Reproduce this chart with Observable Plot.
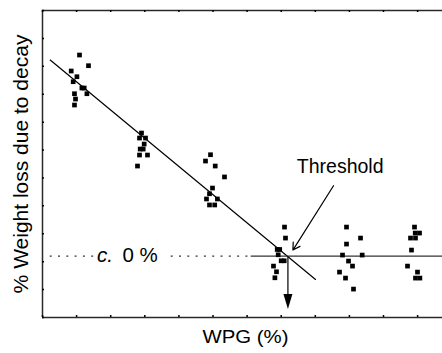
<!DOCTYPE html>
<html><head><meta charset="utf-8">
<script src="https://cdn.jsdelivr.net/npm/d3@7"></script>
<script src="https://cdn.jsdelivr.net/npm/@observablehq/plot@0.6"></script>
<style>body{margin:0;background:#fff}</style>
</head><body><div id="chart"></div>
<script>
// ---- data (arbitrary units: x ticks and y ticks at integers) ----
const xTicks = [0,1,2,3,4,5,6,7,8,9,10,11];
const yTicks = [0,1,2,3,4,5,6,7,8,9,10,11];
const wpgValues = [
  1.085,1.349,0.842,1.009,0.900,1.155,1.223,1.302,0.938,0.968,0.938,
  2.903,2.845,3.021,2.982,2.953,2.865,2.845,3.079,2.786,
  4.927,4.780,5.065,5.337,4.985,4.897,4.809,5.129,4.897,5.050,
  7.097,7.126,6.883,6.956,6.912,7.000,7.088,6.774,6.862,6.815,
  8.915,9.326,8.915,8.798,9.375,8.974,9.091,8.710,8.886,9.120,
  10.909,10.930,11.056,10.792,10.938,10.821,10.704,10.997,10.938,11.067
];
const lossValues = [
  9.405,9.022,8.832,8.627,8.448,8.222,8.222,8.018,8.018,7.828,7.613,
  6.609,6.430,6.430,6.215,6.036,6.036,5.821,5.821,5.427,
  5.832,5.606,5.427,5.036,4.638,4.434,4.247,4.247,4.032,4.032,
  3.240,2.846,2.437,2.437,2.247,2.032,2.032,1.842,1.638,1.423,
  3.240,2.846,2.631,2.237,2.237,2.022,1.842,1.627,1.412,1.018,
  3.240,3.025,3.025,2.846,2.846,2.416,1.842,1.627,1.412,1.412
];
const fitX = [0.226, 8.006];
const fitY = [9.226, 1.362];
const zeroLevel = 2.20;
const solidX = [6.12, 11.73];
const dottedStarts = [0.226, 3.774];
const dottedEnds = [1.545, 6.12];
const thresholdArrowFrom = [8.534, 4.721];
const thresholdArrowTo = [7.343, 2.416];
const thresholdLabel = ["Threshold", 8.73, 5.41];
const downArrowX = 7.197;
const downArrowY = [2.176, 0.301];
const zeroLabelParts = ["c.", "0 %"];
const zeroLabelX = [1.595, 2.346];
const xDomain = [0, 11.73];
const yDomain = [0, 11];

const points = wpgValues.map((x, i) => ({x, y: lossValues[i]}));
const dotted = dottedStarts.map((s, i) => ({x1: s, x2: dottedEnds[i]}));
const downHead = {draw(ctx) { ctx.moveTo(0, 0); ctx.lineTo(-4.5, -15); ctx.lineTo(4.5, -15); ctx.closePath(); }};

const W = 442, H = 353, mL = 42, mR = 0, mT = 10, mB = 36;
const fw = W - mL - mR, fh = H - mT - mB;

const chart = Plot.plot({
  width: W, height: H,
  marginLeft: mL, marginRight: mR, marginTop: mT, marginBottom: mB,
  style: {fontFamily: "'Liberation Sans', Arial, sans-serif", background: "#fff", color: "#000"},
  x: {domain: xDomain, axis: null},
  y: {domain: yDomain, axis: null},
  marks: [
    // frame (no right side)
    Plot.ruleX([xDomain[0]], {stroke: "#2a2a2a", strokeWidth: 1.5}),
    Plot.ruleY([yDomain[0], yDomain[1]], {stroke: "#2a2a2a", strokeWidth: 1.5}),
    // inward ticks
    Plot.ruleX(xTicks, {x: d => d, insetTop: fh - 2, stroke: "#000", strokeWidth: 1.5}),
    Plot.ruleX(xTicks, {x: d => d, insetBottom: fh - 2, stroke: "#000", strokeWidth: 1.5}),
    Plot.ruleY(yTicks, {y: d => d, insetRight: fw - 2, stroke: "#000", strokeWidth: 1.5}),
    // fit line
    Plot.line(fitX.map((x, i) => ({x, y: fitY[i]})), {x: "x", y: "y", stroke: "#000", strokeWidth: 1.2}),
    // zero level: solid + dotted
    Plot.ruleY([zeroLevel], {x1: solidX[0], x2: solidX[1], stroke: "#333", strokeWidth: 1.4}),
    Plot.ruleY(dotted, {y: () => zeroLevel, x1: "x1", x2: "x2", stroke: "#333", strokeWidth: 1.2, strokeDasharray: "2,6.3"}),
    Plot.text([zeroLabelParts[0]], {x: () => zeroLabelX[0], y: () => zeroLevel, text: d => d, textAnchor: "start", fontSize: 20.5, fontStyle: "italic", fill: "#000", dy: -1}),
    Plot.text([zeroLabelParts[1]], {x: () => zeroLabelX[1], y: () => zeroLevel, text: d => d, textAnchor: "start", fontSize: 20.5, fill: "#000", dy: -1}),
    // points
    Plot.dot(points, {x: "x", y: "y", symbol: "square", r: 2.65, fill: "#000", stroke: null}),
    // threshold arrow + label
    Plot.arrow([0], {x1: () => thresholdArrowFrom[0], y1: () => thresholdArrowFrom[1], x2: () => thresholdArrowTo[0], y2: () => thresholdArrowTo[1], stroke: "#000", strokeWidth: 1.2, headLength: 10, bend: 0}),
    Plot.text([thresholdLabel], {x: d => d[1], y: d => d[2], text: d => d[0], fontSize: 19.5, fill: "#000"}),
    // down arrow
    Plot.ruleX([downArrowX], {y1: downArrowY[0], y2: downArrowY[1] + 0.4, stroke: "#000", strokeWidth: 1.2}),
    Plot.dot([downArrowX], {x: d => d, y: () => downArrowY[1], symbol: downHead, fill: "#000", stroke: null}),
    // axis titles
    Plot.text(["WPG (%)"], {frameAnchor: "bottom", text: d => d, fontSize: 19, dy: 25.5, dx: 3, fill: "#000"}),
    Plot.text(["% Weight loss due to decay"], {frameAnchor: "left", textAnchor: "middle", text: d => d, fontSize: 21, rotate: -90, dx: -21.5, fill: "#000"})
  ]
});
d3.select(chart).selectAll("text").filter(function() { return this.textContent === "WPG (%)"; })
  .attr("textLength", 86).attr("lengthAdjust", "spacingAndGlyphs");
document.getElementById("chart").appendChild(chart);
</script>
</body></html>
